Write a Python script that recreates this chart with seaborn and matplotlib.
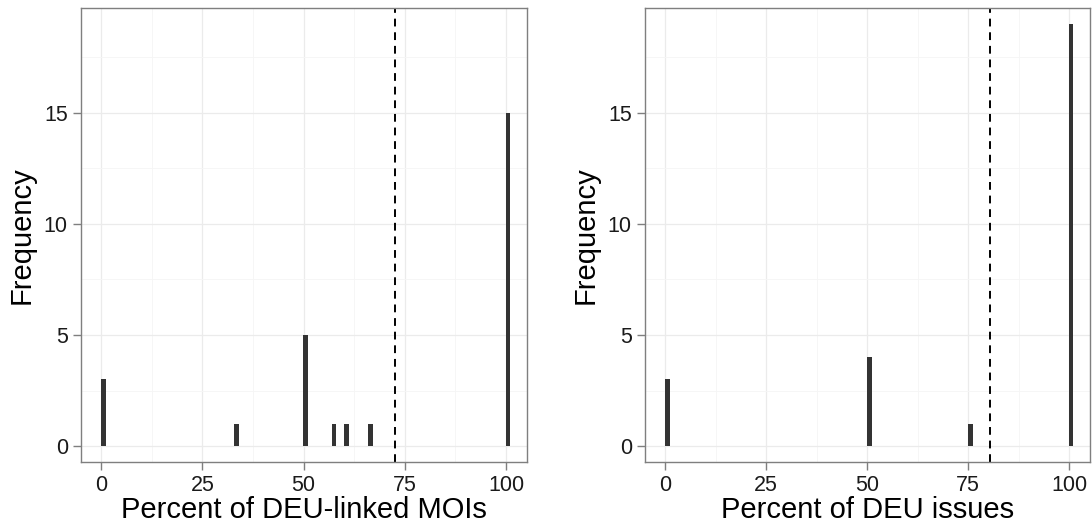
import numpy as np
import pandas as pd
import matplotlib
matplotlib.use('Agg')
import matplotlib.pyplot as plt
import seaborn as sns
from matplotlib.ticker import MultipleLocator

# Data
moi_pct = [0, 33.3, 50, 57.1, 60, 66.7, 100]
moi_freq = [3, 1, 5, 1, 1, 1, 15]
moi_cut = 72.7

issue_pct = [0, 50, 75, 100]
issue_freq = [3, 4, 1, 19]
issue_cut = 80.5

x_ticks = [0, 25, 50, 75, 100]
y_ticks = [0, 5, 10, 15]

sns.set_theme(style="white")
plt.rcParams['font.family'] = ['Liberation Sans', 'DejaVu Sans']

fig = plt.figure(figsize=(10.92, 5.29), dpi=100)
ax1 = fig.add_axes([0.0742, 0.1272, 0.4084, 0.8577])
ax2 = fig.add_axes([0.5907, 0.1272, 0.4075, 0.8577])

panels = [
    (ax1, moi_pct, moi_freq, moi_cut, 'Percent of DEU-linked MOIs'),
    (ax2, issue_pct, issue_freq, issue_cut, 'Percent of DEU issues'),
]

for ax, pct, freq, cut, xlabel in panels:
    df = pd.DataFrame({'pct': pct, 'freq': freq})
    sns.histplot(data=df, x='pct', weights='freq', binwidth=1, binrange=(0, 101),
                 color='#333333', linewidth=0, shrink=1.2, alpha=1, ax=ax)
    ax.axvline(cut, color='black', linestyle=(0, (4, 3)), linewidth=1.4)
    ax.set_xlim(-5, 105.2)
    ax.set_ylim(-0.7, 19.7)
    ax.set_xticks(x_ticks)
    ax.set_yticks(y_ticks)
    ax.xaxis.set_minor_locator(MultipleLocator(12.5))
    ax.yaxis.set_minor_locator(MultipleLocator(2.5))
    ax.grid(which='major', color='#ebebeb', linewidth=0.9)
    ax.grid(which='minor', color='#f5f5f5', linewidth=0.6)
    ax.set_axisbelow(True)
    for s in ax.spines.values():
        s.set_color('#7f7f7f')
        s.set_linewidth(1.0)
    ax.tick_params(axis='both', which='major', direction='out', length=5.5, width=1,
                   color='#7f7f7f', labelsize=15.5, labelcolor='#1a1a1a', pad=4)
    ax.tick_params(axis='both', which='minor', length=0)
    ax.tick_params(bottom=True, left=True)
    ax.set_xlabel(xlabel, fontsize=21, color='black', labelpad=0)
    ax.set_ylabel('Frequency', fontsize=21, color='black', labelpad=6)

fig.savefig('out.png', dpi=100)
